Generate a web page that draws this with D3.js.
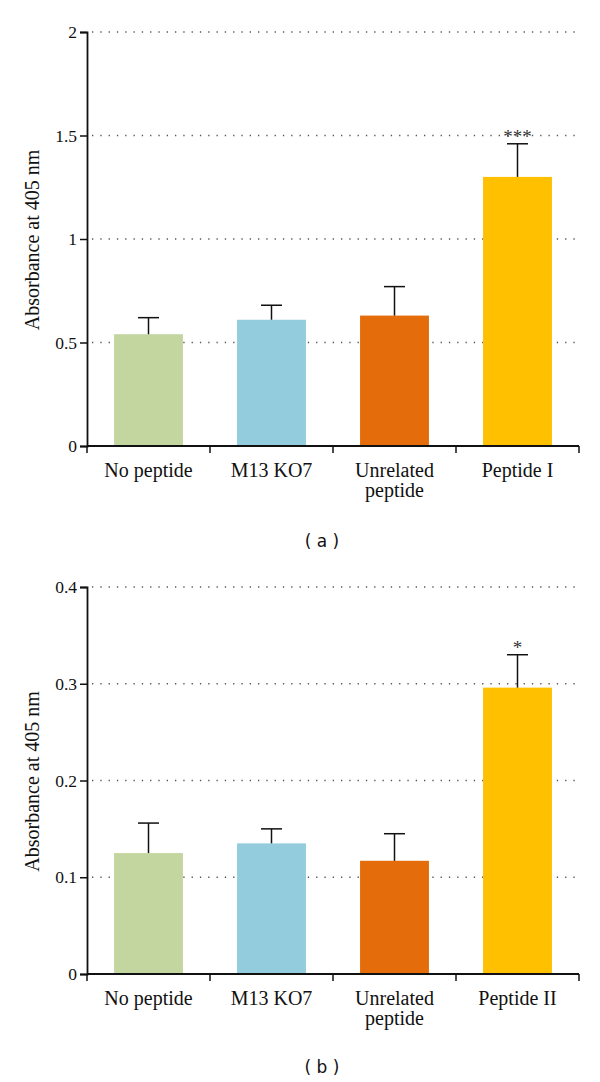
<!DOCTYPE html>
<html><head><meta charset="utf-8">
<script src="https://cdn.jsdelivr.net/npm/d3@7"></script>
<style>body{margin:0;background:#fff}svg{display:block}
.serif{font-family:"Liberation Serif","Times New Roman",Times,"DejaVu Serif",serif}</style>
</head><body>
<svg id="c" width="600" height="1082"></svg>
<script>
const categoriesA = ["No peptide", "M13 KO7", "Unrelated\npeptide", "Peptide I"];
const categoriesB = ["No peptide", "M13 KO7", "Unrelated\npeptide", "Peptide II"];
const meansA = [0.54, 0.61, 0.63, 1.30];
const errorsA = [0.08, 0.07, 0.14, 0.16];
const meansB = [0.125, 0.135, 0.117, 0.296];
const errorsB = [0.031, 0.015, 0.028, 0.034];
const signifA = ["", "", "", "***"];
const signifB = ["", "", "", "*"];
const ticksA = [0, 0.5, 1, 1.5, 2];
const ticksB = [0, 0.1, 0.2, 0.3, 0.4];
const colors = ["#c4d69f", "#93cddd", "#e46c0a", "#ffc000"];
const yLabel = "Absorbance at 405 nm";

const svg = d3.select("#c");

function panel(cfg) {
  const g = svg.append("g");
  const x = d3.scaleBand().domain(cfg.cats).range([87, 579]).paddingInner(0.44).paddingOuter(0.22);
  const band = d3.scaleBand().domain(cfg.cats).range([87, 579]);
  const y = d3.scaleLinear().domain([0, cfg.ticks[cfg.ticks.length - 1]]).range([cfg.y0, cfg.y1]);

  g.selectAll(".grid").data(cfg.ticks.slice(1)).join("line")
    .attr("x1", 92).attr("x2", 579)
    .attr("y1", d => y(d)).attr("y2", d => y(d))
    .attr("stroke", "#555").attr("stroke-width", 1.3)
    .attr("stroke-dasharray", "1.3,7");

  g.selectAll(".bar").data(cfg.means).join("rect")
    .attr("x", (d, i) => x(cfg.cats[i])).attr("width", x.bandwidth())
    .attr("y", d => y(d)).attr("height", d => y(0) - y(d))
    .attr("fill", (d, i) => colors[i]);

  const cx = i => x(cfg.cats[i]) + x.bandwidth() / 2;
  g.selectAll(".ev").data(cfg.means).join("line")
    .attr("x1", (d, i) => cx(i)).attr("x2", (d, i) => cx(i))
    .attr("y1", d => y(d)).attr("y2", (d, i) => y(d + cfg.errs[i]))
    .attr("stroke", "#111").attr("stroke-width", 1.5);
  g.selectAll(".ec").data(cfg.means).join("line")
    .attr("x1", (d, i) => cx(i) - 10.5).attr("x2", (d, i) => cx(i) + 10.5)
    .attr("y1", (d, i) => y(d + cfg.errs[i])).attr("y2", (d, i) => y(d + cfg.errs[i]))
    .attr("stroke", "#111").attr("stroke-width", 1.5);

  g.selectAll(".sig").data(cfg.sig).join("text").attr("class", "serif")
    .attr("x", (d, i) => cx(i)).attr("y", (d, i) => y(cfg.means[i] + cfg.errs[i]) - 1)
    .attr("text-anchor", "middle").attr("font-size", 19)
    .attr("fill", "#333").text(d => d);

  const ya = g.append("g").attr("transform", "translate(87,0)")
    .call(d3.axisLeft(y).tickValues(cfg.ticks).tickFormat(d => String(d)).tickSize(7).tickPadding(3));
  ya.attr("font-family", null).attr("font-size", null);
  ya.select(".domain").attr("stroke", "#111").attr("stroke-width", 1.8);
  ya.selectAll(".tick line").attr("stroke", "#111").attr("stroke-width", 1.5);
  ya.selectAll("text").attr("class", "serif").attr("font-size", 17.5).attr("fill", "#111");

  const xa = g.append("g").attr("transform", `translate(0,${cfg.y0})`);
  xa.append("line").attr("x1", 87).attr("x2", 579).attr("stroke", "#111").attr("stroke-width", 1.8);
  const edges = cfg.cats.map(c => band(c)).concat([579]);
  xa.selectAll(".xt").data(edges).join("line")
    .attr("x1", d => d).attr("x2", d => d).attr("y1", 0).attr("y2", 7)
    .attr("stroke", "#111").attr("stroke-width", 1.5);
  xa.selectAll(".xl").data(cfg.cats).join("text").attr("class", "serif")
    .attr("text-anchor", "middle").attr("font-size", 20).attr("fill", "#111")
    .attr("transform", (d, i) => `translate(${cx(i)},31)`)
    .each(function(d) {
      const lines = d.split("\n");
      d3.select(this).selectAll("tspan").data(lines).join("tspan")
        .attr("x", 0).attr("dy", (l, k) => k === 0 ? 0 : 20).text(l => l);
    });

  g.append("text").attr("class", "serif").attr("transform", `translate(39,${(cfg.y0 + cfg.y1) / 2 + 1}) rotate(-90)`)
    .attr("text-anchor", "middle").attr("font-size", 20).attr("fill", "#111")
    .text(yLabel);

  g.append("text").attr("x", 322).attr("y", cfg.capY).attr("text-anchor", "middle")
    .attr("font-family", "'DejaVu Sans', sans-serif").attr("font-size", 17).attr("fill", "#111")
    .attr("xml:space", "preserve").text(cfg.caption);
}

panel({cats: categoriesA, means: meansA, errs: errorsA, sig: signifA, ticks: ticksA, y0: 446, y1: 32, capY: 547, caption: "( a )"});
panel({cats: categoriesB, means: meansB, errs: errorsB, sig: signifB, ticks: ticksB, y0: 974, y1: 587, capY: 1073, caption: "( b )"});
</script>
</body></html>
